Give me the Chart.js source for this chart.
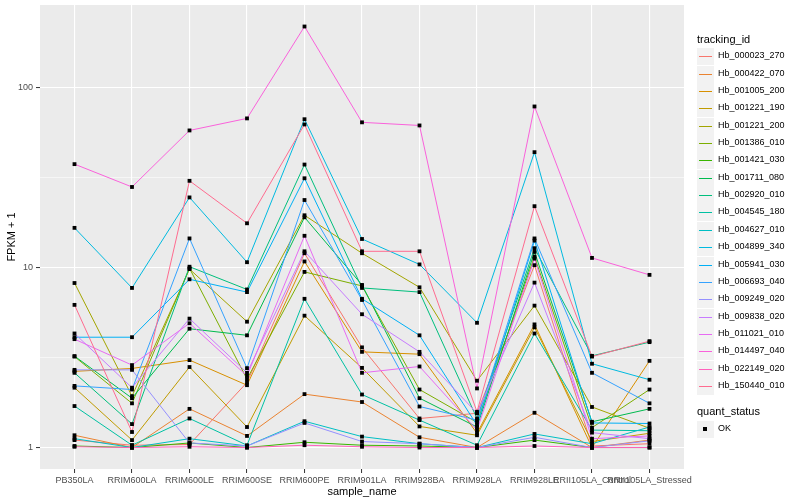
<!DOCTYPE html>
<html>
<head>
<meta charset="utf-8">
<script src="https://cdn.jsdelivr.net/npm/chart.js@4/dist/chart.umd.min.js"></script>
<style>
  html, body { margin: 0; padding: 0; background: #fff; }
  #wrap { position: relative; width: 800px; height: 500px; font-family: "Liberation Sans", Arial, sans-serif; }
  #legend { position: absolute; left: 697px; top: 0; width: 103px; color: #000; }
  .lg-title { position: absolute; left: 0; font-size: 11px; white-space: nowrap; }
  .lg-item { position: absolute; left: 0; height: 17px; width: 103px; }
  .lg-key { position: absolute; left: 0; top: 0; width: 17px; height: 17px; background: #F2F2F2; }
  .lg-line { position: absolute; left: 2px; top: 8px; width: 13px; height: 1px; }
  .lg-dot { position: absolute; left: 6px; top: 6px; width: 4px; height: 4px; background: #000; }
  .lg-text { position: absolute; left: 21px; top: 2px; font-size: 9px; white-space: nowrap; }
</style>
</head>
<body>
<div id="wrap">
  <canvas id="chart" width="800" height="500"></canvas>
  <div id="legend"></div>
</div>
<script>
// categories on the x axis
const categories = ['PB350LA', 'RRIM600LA', 'RRIM600LE', 'RRIM600SE', 'RRIM600PE', 'RRIM901LA',
                    'RRIM928BA', 'RRIM928LA', 'RRIM928LE', 'RRII105LA_Control', 'RRII105LA_Stressed'];

// FPKM + 1 per gene
const hb000023_270 = [1.1, 1.03, 1.04, 2.3, 12.0, 3.6, 1.45, 1.55, 10.3, 1.02, 1.05];
const hb000422_070 = [1.17, 1.0, 1.64, 1.16, 1.98, 1.79, 1.14, 1.0, 1.56, 1.0, 1.1];
const hb001005_200 = [2.65, 2.75, 3.06, 2.22, 10.8, 3.4, 3.3, 1.2, 4.83, 1.0, 3.03];
const hb001221_190 = [2.15, 1.1, 2.8, 1.3, 5.4, 2.77, 1.31, 1.17, 4.65, 1.08, 1.2];
const hb001221_200 = [8.2, 1.93, 9.8, 5.0, 19.5, 12.0, 7.76, 2.35, 6.14, 1.68, 1.28];
const hb001386_010 = [3.2, 1.76, 9.9, 2.4, 9.45, 7.9, 2.1, 1.38, 11.5, 1.29, 2.1];
const hb001421_030 = [1.02, 1.0, 1.06, 1.0, 1.07, 1.03, 1.02, 1.0, 1.1, 1.0, 1.0];
const hb001711_080 = [3.22, 1.88, 4.57, 4.2, 19.0, 8.0, 1.88, 1.3, 12.2, 1.39, 1.64];
const hb002920_010 = [2.6, 1.35, 10.1, 7.55, 37.3, 7.7, 7.3, 1.45, 12.8, 3.23, 3.85];
const hb004545_180 = [1.7, 1.03, 1.45, 1.03, 6.7, 1.97, 1.42, 1.03, 4.3, 1.25, 1.24];
const hb004627_010 = [1.12, 1.0, 1.12, 1.02, 1.4, 1.15, 1.05, 1.0, 1.19, 1.05, 1.3];
const hb004899_340 = [16.6, 7.7, 24.5, 10.7, 66.6, 14.4, 10.4, 4.93, 43.7, 2.92, 2.38];
const hb005941_030 = [4.1, 4.1, 8.6, 7.3, 31.3, 6.7, 4.2, 1.33, 14.1, 1.37, 1.36];
const hb006693_040 = [2.2, 2.1, 14.5, 2.76, 23.7, 6.6, 1.69, 1.42, 14.5, 2.6, 1.76];
const hb009249_020 = [2.7, 2.7, 1.06, 1.02, 1.37, 1.08, 1.05, 1.0, 1.14, 1.0, 1.09];
const hb009838_020 = [4.3, 2.15, 5.2, 2.6, 12.3, 5.5, 3.4, 1.55, 8.24, 1.21, 1.12];
const hb011021_010 = [4.0, 2.87, 4.9, 2.5, 15.0, 2.6, 2.82, 1.25, 11.2, 1.12, 1.16];
const hb014497_040 = [37.5, 28, 57.7, 67.3, 218, 64, 61.5, 2.13, 78.4, 11.3, 9.1];
const hb022149_020 = [1.01, 1.0, 1.01, 1.0, 1.03, 1.01, 1.0, 1.0, 1.02, 1.0, 1.0];
const hb150440_010 = [6.2, 1.22, 30.3, 17.6, 62.3, 12.3, 12.3, 1.58, 21.9, 3.2, 3.9];

const trackingIds = ['Hb_000023_270', 'Hb_000422_070', 'Hb_001005_200', 'Hb_001221_190', 'Hb_001221_200',
                     'Hb_001386_010', 'Hb_001421_030', 'Hb_001711_080', 'Hb_002920_010', 'Hb_004545_180',
                     'Hb_004627_010', 'Hb_004899_340', 'Hb_005941_030', 'Hb_006693_040', 'Hb_009249_020',
                     'Hb_009838_020', 'Hb_011021_010', 'Hb_014497_040', 'Hb_022149_020', 'Hb_150440_010'];
const seriesValues = [hb000023_270, hb000422_070, hb001005_200, hb001221_190, hb001221_200,
                      hb001386_010, hb001421_030, hb001711_080, hb002920_010, hb004545_180,
                      hb004627_010, hb004899_340, hb005941_030, hb006693_040, hb009249_020,
                      hb009838_020, hb011021_010, hb014497_040, hb022149_020, hb150440_010];
// ggplot default hue palette for 20 groups
const seriesColors = ['#F8766D', '#EA8331', '#D89000', '#C09B00', '#A3A500', '#7CAE00', '#39B600', '#00BB4E',
                      '#00BF7D', '#00C1A3', '#00BFC4', '#00BAE0', '#00B0F6', '#35A2FF', '#9590FF', '#C77CFF',
                      '#E76BF3', '#FA62DB', '#FF62BC', '#FF6C90'];

const yTickValues = [1, 10, 100];
const yMinorValues = [Math.sqrt(10), Math.sqrt(1000)];
const quantStatus = ['OK'];

const FONT = '"Liberation Sans", Arial, sans-serif';

// grey panel background
const panelBg = {
    id: 'panelBg',
    beforeDraw(chart) {
        const { ctx, chartArea: a } = chart;
        ctx.save();
        ctx.fillStyle = '#EBEBEB';
        ctx.fillRect(a.left, a.top, a.right - a.left, a.bottom - a.top);
        ctx.restore();
    }
};

const lineSets = seriesValues.map((vals, i) => ({
    label: trackingIds[i],
    data: vals.map((v, j) => ({ x: j, y: v })),
    borderColor: seriesColors[i],
    backgroundColor: seriesColors[i],
    borderWidth: 1,
    pointRadius: 0,
    tension: 0,
    order: -i
}));

// all points on top of all lines
const pointSet = {
    label: 'quant_status',
    data: seriesValues.flatMap(vals => vals.map((v, j) => ({ x: j, y: v }))),
    showLine: false,
    pointStyle: 'rect',
    pointRadius: 2.7,
    pointBorderWidth: 0,
    backgroundColor: '#000',
    borderColor: '#000',
    order: -100
};

const isMajor = v => yTickValues.some(t => Math.abs(t - v) < 1e-9);

new Chart(document.getElementById('chart'), {
    type: 'line',
    data: { datasets: [...lineSets, pointSet] },
    options: {
        responsive: false,
        animation: false,
        layout: { padding: { left: 0, right: 116, top: 5, bottom: 0 } },
        plugins: { legend: { display: false }, tooltip: { enabled: false } },
        scales: {
            x: {
                type: 'linear',
                min: -0.6,
                max: 10.6,
                afterBuildTicks: s => { s.ticks = categories.map((c, i) => ({ value: i })); },
                afterFit: s => { s.height = 31; s.paddingLeft = 0; s.paddingRight = 0; },
                ticks: {
                    autoSkip: false,
                    maxRotation: 0,
                    padding: 2,
                    color: '#4D4D4D',
                    font: { family: FONT, size: 9 },
                    callback: v => categories[v]
                },
                grid: { color: '#FFFFFF', lineWidth: 1.1, tickLength: 4, tickColor: '#333333', tickWidth: 1 },
                border: { display: false },
                title: {
                    display: true,
                    text: 'sample_name',
                    color: '#000',
                    font: { family: FONT, size: 11 },
                    padding: { top: 0, bottom: 1 }
                }
            },
            y: {
                type: 'logarithmic',
                min: 0.76,
                max: 287,
                afterBuildTicks: s => {
                    s.ticks = [...yTickValues, ...yMinorValues].sort((a, b) => a - b).map(v => ({ value: v }));
                },
                afterFit: s => { s.width = 40; s.paddingTop = 0; s.paddingBottom = 0; },
                ticks: {
                    padding: 3,
                    color: '#4D4D4D',
                    font: { family: FONT, size: 9 },
                    callback: v => isMajor(v) ? String(v) : ''
                },
                grid: {
                    color: '#FFFFFF',
                    lineWidth: c => isMajor(c.tick.value) ? 1.1 : 0.55,
                    tickLength: 4,
                    tickColor: c => isMajor(c.tick.value) ? '#333333' : 'rgba(0,0,0,0)',
                    tickWidth: 1
                },
                border: { display: false },
                title: {
                    display: true,
                    text: 'FPKM + 1',
                    color: '#000',
                    font: { family: FONT, size: 11 },
                    padding: { top: 5, bottom: 0 }
                }
            }
        }
    },
    plugins: [panelBg]
});

// ggplot-style legend at the right
const legend = document.getElementById('legend');
function addTitle(text, y) {
    const t = document.createElement('div');
    t.className = 'lg-title';
    t.style.top = (y - 7) + 'px';
    t.textContent = text;
    legend.appendChild(t);
}
function addItem(text, y, color) {
    const item = document.createElement('div');
    item.className = 'lg-item';
    item.style.top = (y - 8.5) + 'px';
    const key = document.createElement('div');
    key.className = 'lg-key';
    const mark = document.createElement('div');
    if (color) { mark.className = 'lg-line'; mark.style.background = color; }
    else { mark.className = 'lg-dot'; }
    key.appendChild(mark);
    const label = document.createElement('div');
    label.className = 'lg-text';
    label.textContent = text;
    item.appendChild(key);
    item.appendChild(label);
    legend.appendChild(item);
}
addTitle('tracking_id', 40);
trackingIds.forEach((id, i) => addItem(id, 56.7 + i * 17.36, seriesColors[i]));
addTitle('quant_status', 412);
quantStatus.forEach((q, i) => addItem(q, 429 + i * 17.36, null));
</script>
</body>
</html>
